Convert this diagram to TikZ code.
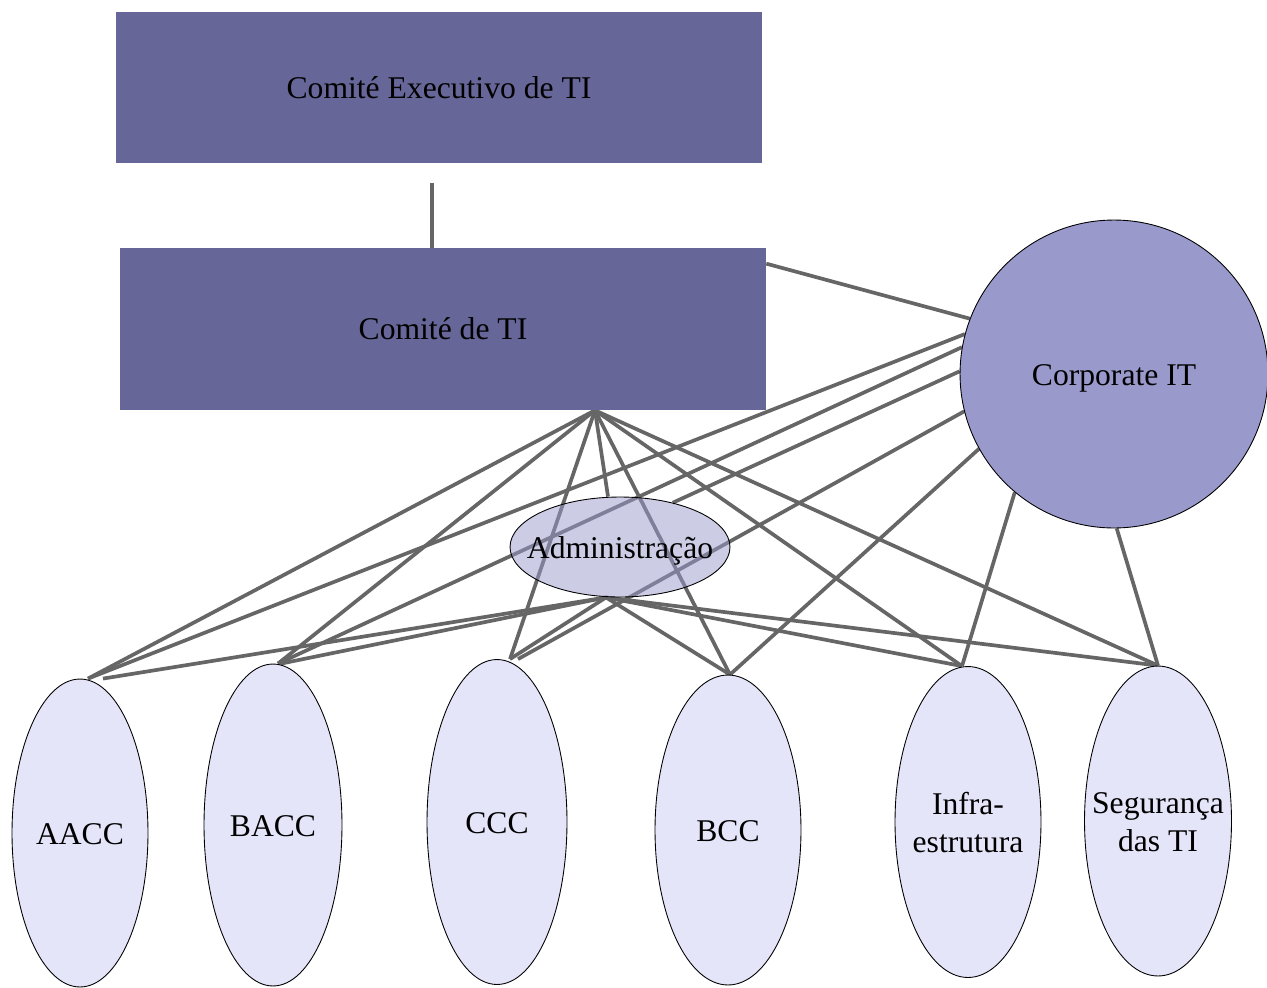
\documentclass[tikz,border=0pt]{standalone}
\usepackage{fontspec}
\setmainfont{Liberation Serif}
\usetikzlibrary{shapes.geometric,backgrounds}
\definecolor{boxc}{HTML}{666699}
\definecolor{corpc}{HTML}{9999CC}
\definecolor{unitc}{HTML}{E5E5FA}
\definecolor{linec}{HTML}{666666}
\newcommand{\fixtext}[1]{\makebox[0pt][c]{\raisebox{-0.08cm}[\height][\depth]{\begin{tabular}{@{}c@{}}#1\end{tabular}}}}
\begin{document}
\begin{tikzpicture}[x=0.02cm,y=-0.02cm,
  every node/.style={font=\fontsize{18}{21.5}\selectfont, align=center, inner sep=0pt},
  boxnode/.style={rectangle, fill=boxc, minimum width=12.92cm},
  unitnode/.style={ellipse, draw=black, line width=0.5pt, fill=unitc},
  conn/.style={draw=linec, line width=2.1pt}]
\useasboundingbox (0,0) rectangle (1267,987);
\clip (0,0) rectangle (1267,987);

\node[boxnode, minimum height=3.02cm] (exec) at (439,87.5) {Comité Executivo de TI};
\node[boxnode, minimum height=3.24cm] (ti) at (443,329) {Comité de TI};
\node[circle, draw=black, line width=0.5pt, fill=corpc, minimum size=6.16cm] (corp) at (1114,374) {\fixtext{Corporate IT}};
\node[ellipse, draw=black, line width=0.5pt, fill=corpc, fill opacity=0.5, text opacity=1, minimum width=4.4cm, minimum height=2cm] (adm) at (620,547) {\fixtext{Administração}};

\node[unitnode, minimum width=2.72cm, minimum height=6.16cm] (aacc) at (80,833) {\fixtext{AACC}};
\node[unitnode, minimum width=2.76cm, minimum height=6.44cm] (bacc) at (273,825) {\fixtext{BACC}};
\node[unitnode, minimum width=2.8cm, minimum height=6.5cm] (ccc) at (497,822) {\fixtext{CCC}};
\node[unitnode, minimum width=2.92cm, minimum height=6.2cm] (bcc) at (728,830) {\fixtext{BCC}};
\node[unitnode, minimum width=2.92cm, minimum height=6.22cm] (infra) at (968,822) {\fixtext{Infra-\\estrutura}};
\node[unitnode, minimum width=2.94cm, minimum height=6.2cm] (seg) at (1158,821) {\fixtext{Segurança\\das TI}};

\coordinate (hub) at ([xshift=3.04cm]ti.south);
\coordinate (admT) at ([xshift=-0.24cm]adm.north);
\coordinate (admB) at ([xshift=-0.28cm]adm.south);
\coordinate (vtop) at ([xshift=-0.14cm,yshift=-0.4cm]exec.south);

\begin{scope}[on background layer]
  \draw[conn] (vtop) -- (vtop |- ti.north);
  \draw[conn] ([yshift=-0.32cm]ti.north east) -- (corp.159);
  % from Comite de TI
  \draw[conn] (hub) -- ([xshift=0.16cm]aacc.north);
  \draw[conn] (hub) -- ([xshift=0.1cm]bacc.north);
  \draw[conn] (hub) -- ([xshift=0.26cm]ccc.north);
  \draw[conn] (hub) -- (admT);
  \draw[conn] (hub) -- ([xshift=0.04cm]bcc.north);
  \draw[conn] (hub) -- ([xshift=-0.12cm]infra.north);
  \draw[conn] (hub) -- (seg.north);
  % from Corporate IT
  \draw[conn] (corp.165) -- ([xshift=0.16cm]aacc.north);
  \draw[conn] (corp.170) -- ([xshift=0.1cm]bacc.north);
  \draw[conn] (corp.179) -- (adm.40);
  \draw[conn] (corp.194) -- ([xshift=0.42cm]ccc.north);
  \draw[conn] (corp.209) -- ([xshift=0.04cm]bcc.north);
  \draw[conn] (corp.230) -- ([xshift=-0.12cm]infra.north);
  \draw[conn] (corp.271) -- (seg.north);
  % from Administracao
  \draw[conn] (admB) -- ([xshift=0.46cm]aacc.north);
  \draw[conn] (admB) -- ([xshift=0.16cm]bacc.north);
  \draw[conn] (admB) -- ([xshift=0.26cm]ccc.north);
  \draw[conn] (admB) -- ([xshift=0.04cm]bcc.north);
  \draw[conn] (admB) -- ([xshift=-0.12cm]infra.north);
  \draw[conn] (admB) -- (seg.north);
\end{scope}
\end{tikzpicture}
\end{document}
